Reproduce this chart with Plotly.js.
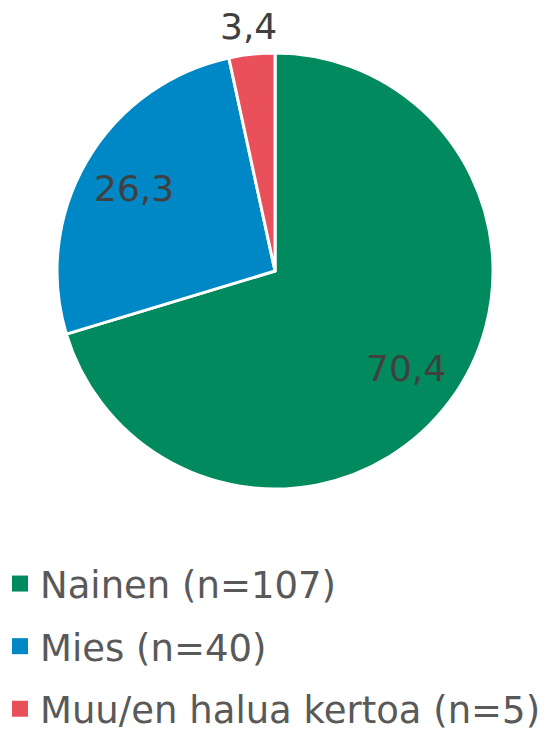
<!DOCTYPE html>
<html>
<head>
<meta charset="utf-8">
<script src="https://cdn.plot.ly/plotly-3.0.1.min.js"></script>
<style>html,body{margin:0;padding:0;background:#fff;}#chart{width:559px;height:731px;}</style>
</head>
<body>
<div id="chart"></div>
<script>
const categories = ["Nainen (n=107)", "Mies (n=40)", "Muu/en halua kertoa (n=5)"];
const values = [70.4, 26.3, 3.4];
const colors = ["#008A5E", "#0088C6", "#E9505A"];
const labelText = ["70,4", "26,3", "3,4"];
// label distance from centre, as a fraction of the radius (inside / outside labels)
const labelRadius = [0.75, 0.75, 1.13];

const W = 559, H = 731;
const FONT = "DejaVu Sans, Verdana, sans-serif";
const dom = {x: [0.102, 0.882], y: [0.331, 0.9275]};

// pie trace (legend drawn by helper entries below so that spacing matches)
const pie = {
  type: "pie",
  labels: categories,
  values: values,
  textinfo: "none",
  sort: false,
  direction: "clockwise",
  rotation: 0,
  marker: {colors: colors, line: {color: "#ffffff", width: 3}},
  domain: dom,
  showlegend: false,
  hoverinfo: "none"
};

// legend entries (no data drawn)
const legendEntries = categories.map((c, i) => ({
  type: "scatter", mode: "markers",
  x: [null], y: [null],
  name: c,
  legendgroup: "g" + i,
  marker: {symbol: "square", size: 16, color: colors[i]},
  showlegend: true,
  hoverinfo: "none"
}));

// data labels placed at each slice's mid angle
const total = values.reduce((a, b) => a + b, 0);
const cxPx = (dom.x[0] + dom.x[1]) / 2 * W;
const cyPx = (1 - (dom.y[0] + dom.y[1]) / 2) * H;
const rPx = (dom.x[1] - dom.x[0]) * W / 2;
let cum = 0;
const annotations = values.map((v, i) => {
  const mid = (cum + v / 2) / total * 2 * Math.PI;
  cum += v;
  const px = cxPx + labelRadius[i] * rPx * Math.sin(mid);
  const py = cyPx - labelRadius[i] * rPx * Math.cos(mid);
  return {
    xref: "paper", yref: "paper",
    x: px / W, y: 1 - py / H,
    xanchor: "center", yanchor: "middle",
    text: labelText[i], showarrow: false,
    font: {family: FONT, size: 36, color: "#404040"}
  };
});

const layout = {
  width: W, height: H,
  margin: {l: 0, r: 0, t: 0, b: 0, autoexpand: false},
  paper_bgcolor: "#ffffff",
  plot_bgcolor: "#ffffff",
  xaxis: {visible: false},
  yaxis: {visible: false},
  showlegend: true,
  annotations: annotations,
  legend: {
    orientation: "v",
    x: 0, xanchor: "left",
    y: 1 - 553 / H, yanchor: "top",
    maxheight: 1000,
    font: {family: FONT, size: 37, color: "#595959"},
    tracegroupgap: 11.5,
    bgcolor: "rgba(0,0,0,0)"
  }
};

Plotly.newPlot("chart", [pie].concat(legendEntries), layout, {displayModeBar: false, staticPlot: true});
</script>
</body>
</html>
